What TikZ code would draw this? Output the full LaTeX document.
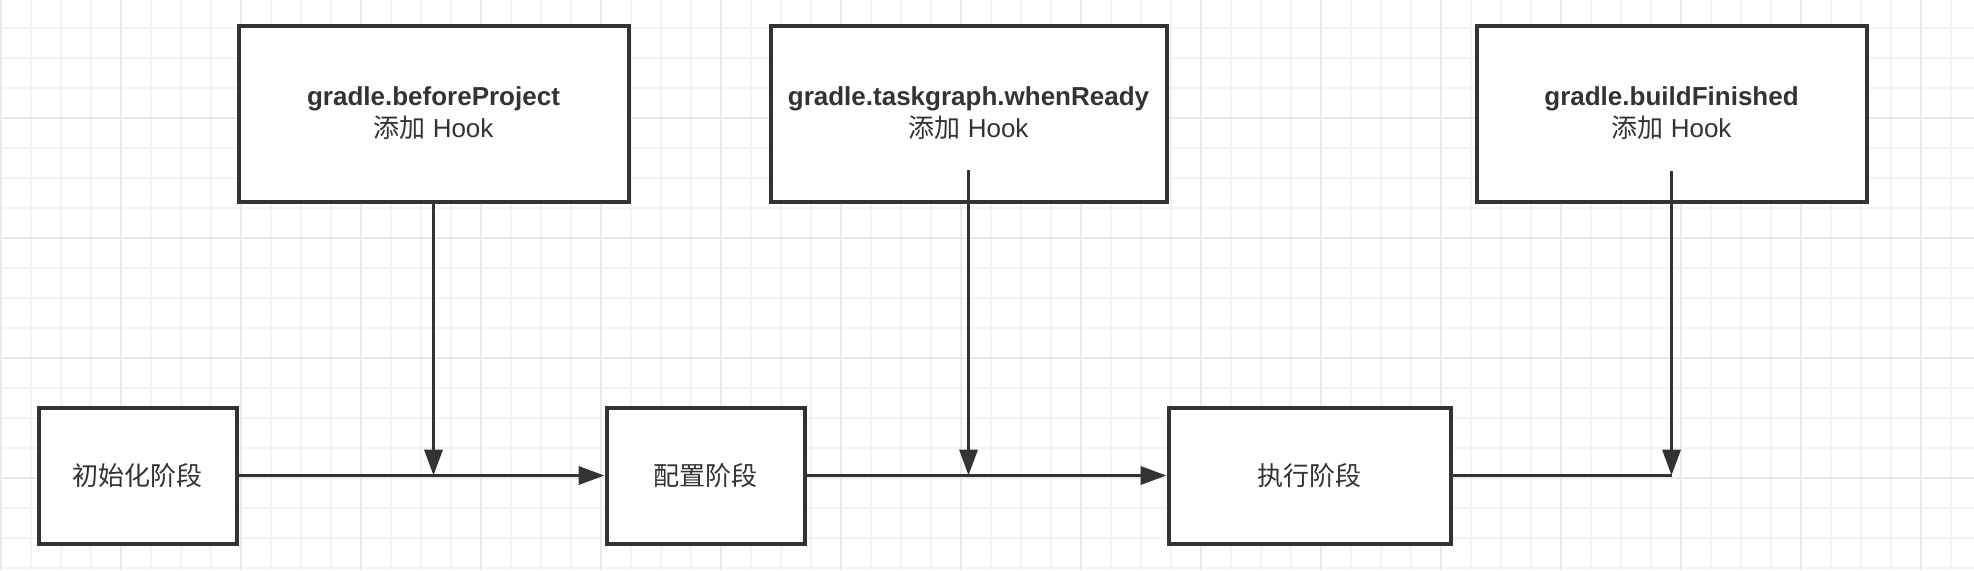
\documentclass[tikz,border=0pt]{standalone}
\usepackage{fontspec}
\setmainfont{Liberation Sans}
\newfontfamily\cjk{Noto Sans CJK SC}
\usetikzlibrary{arrows.meta}
\usetikzlibrary{positioning}

\definecolor{ink}{HTML}{333333}
\definecolor{gridlo}{HTML}{F3F3F3}
\definecolor{gridhi}{HTML}{EAEAEA}

\tikzset{
  box/.style={draw=ink,line width=2pt,fill=white,text=ink,align=center,
    font=\fontsize{13}{16}\selectfont,inner sep=0pt},
  flow/.style={draw=ink,line width=1.8pt,-{Triangle[length=13pt,width=9pt]}},
  link/.style={draw=ink,line width=1.8pt},
  gridminor/.style={draw=gridlo,line width=0.6pt},
  gridmajor/.style={draw=gridhi,line width=0.8pt},
}

\begin{document}
\begin{tikzpicture}[x=0.5pt,y=-0.5pt]
\useasboundingbox (0,0) rectangle (1974,570);
\fill[white] (0,0) rectangle (1974,570);

% background grid
\foreach \gx in {1,31,...,1974} \draw[gridminor] (\gx,0) -- (\gx,570);
\foreach \gy in {28,58,...,570} \draw[gridminor] (0,\gy) -- (1974,\gy);
\foreach \gx in {1,121,...,1974} \draw[gridmajor] (\gx,0) -- (\gx,570);
\foreach \gy in {118,238,...,570} \draw[gridmajor] (0,\gy) -- (1974,\gy);

% hooks
\node[box,minimum width=195pt,minimum height=88pt] (hkA) at (433.5,113.5)
  {\textbf{gradle.beforeProject}\\{\cjk 添加} Hook};
\node[box,minimum width=198pt,minimum height=88pt] (hkB) at (968.5,113.5)
  {\textbf{gradle.taskgraph.whenReady}\\{\cjk 添加} Hook};
\node[box,minimum width=195pt,minimum height=88pt] (hkC) at (1671.5,113.5)
  {\textbf{gradle.buildFinished}\\{\cjk 添加} Hook};

% stages
\node[box,minimum width=99pt,minimum height=68pt] (stA) at (137.5,475.5) {\cjk 初始化阶段};
\node[box,minimum width=99pt,minimum height=68pt] (stB) at (705.5,475.5) {\cjk 配置阶段};
\node[box,minimum width=141pt,minimum height=68pt] (stC) at (1309.5,475.5) {\cjk 执行阶段};

\coordinate (jA) at (hkA.south |- stA.east);
\coordinate (jB) at (hkB.south |- stA.east);
\coordinate (jC) at (hkC.south |- stA.east);
\coordinate (sB) at (968.5,170);
\coordinate (sC) at (1671.5,171);

\draw[flow] (stA) -- (stB);
\draw[flow] (stB) -- (stC);
\draw[link] (stC) -- (jC);

\draw[flow] (hkA) -- (jA);
\draw[flow] (sB) -- (jB);
\draw[flow] (sC) -- (jC);

\end{tikzpicture}
\end{document}
